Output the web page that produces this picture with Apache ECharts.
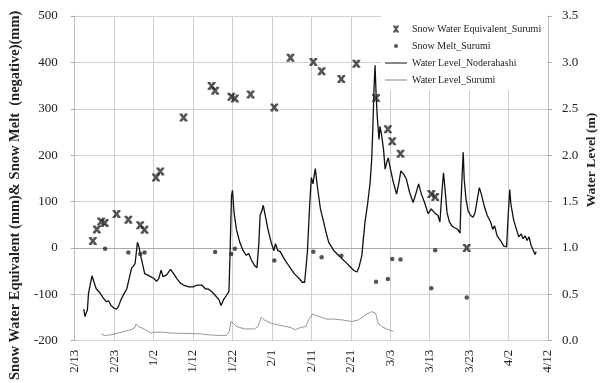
<!DOCTYPE html>
<html>
<head>
<meta charset="utf-8">
<script src="https://cdn.jsdelivr.net/npm/echarts@6/dist/echarts.min.js"></script>
<style>
html,body{margin:0;padding:0;background:#fff;}
#chart{width:604px;height:383px;}
</style>
</head>
<body>
<div id="chart"></div>
<script>
// ---- data (x = days since first tick) ----
const xTickLabels = ["2/13","2/23","1/2","1/12","1/22","2/1","2/11","2/21","3/3","3/13","3/23","4/2","4/12"];

const sweDays   = [4.6,5.6,6.7,7.6,10.6,13.6,16.6,17.7,20.6,21.7,27.6,34.7,35.6,39.7,40.6,44.6,50.6,54.7,60.5,62.6,67.6,71.4,76.4,79.4,80.5,82.6,90.4,91.4,99.4];
const sweValues = [15,40,57,54,73,61,49,39,152,165,281,349,339,326,322,331,303,410,401,381,364,397,323,256,230,203,116,110,0];

const meltDays   = [7.7,13.6,16.6,17.7,35.6,39.7,40.6,50.6,60.5,62.6,67.6,76.4,79.4,80.5,82.6,90.4,91.4,99.4];
const meltValues = [-2,-10,-13,-10,-9,-13,-2,-27,-8,-20,-17,-73,-67,-24,-25,-87,-5,-107];

const nodeDays = [2.3,2.6,2.9,3.2,3.5,3.9,4.4,4.85,5.45,6.3,7.1,7.95,8.6,9.2,10.0,10.6,11.1,11.7,12.55,13.2,13.8,14.4,14.9,15.3,15.9,16.3,16.7,17.3,17.75,18.4,19.25,20.1,20.75,21.3,21.9,22.4,23.3,24.3,25.1,25.9,26.8,27.6,28.9,30.1,31.0,31.5,32.2,33.1,33.9,34.7,35.6,36.6,37.1,37.7,38.5,39.1,39.4,39.75,40.0,40.4,41.0,41.85,42.7,43.5,44.1,44.8,45.6,46.2,46.7,47.0,47.45,47.8,48.3,49.0,49.8,50.5,50.9,51.5,52.1,53.15,54.4,55.7,56.9,57.7,58.3,59.0,59.6,60.0,60.4,61.0,61.5,62.3,63.0,63.6,64.4,65.7,67.4,68.6,69.9,70.7,71.55,72.1,72.8,73.2,73.6,74.2,74.9,75.3,75.6,75.9,76.15,76.4,76.7,77.15,77.4,77.8,78.3,78.7,79.1,79.5,79.9,80.8,81.6,82.2,82.7,83.5,84.1,84.9,85.8,86.6,87.2,87.9,88.7,89.6,90.4,91.2,92.1,92.6,93.1,93.5,93.9,94.4,95.0,95.6,96.2,97.1,97.7,97.9,98.3,98.5,98.75,99.2,99.75,100.4,101.0,101.5,102.1,102.6,103.1,103.8,104.6,105.45,106.0,106.45,107.1,107.95,108.8,109.5,109.9,110.3,110.6,111.3,112.0,112.6,113.2,113.7,114.2,114.7,115.2,115.7,116.3,116.75,117.0];
const nodeLevels = [0.34,0.26,0.24,0.33,0.51,0.60,0.70,0.635,0.56,0.52,0.47,0.42,0.43,0.38,0.35,0.34,0.37,0.44,0.51,0.56,0.67,0.78,0.77,0.83,1.06,1.01,0.92,0.81,0.72,0.71,0.69,0.67,0.64,0.67,0.76,0.69,0.71,0.77,0.72,0.67,0.62,0.60,0.58,0.58,0.60,0.62,0.60,0.56,0.556,0.53,0.49,0.44,0.38,0.44,0.49,0.53,0.96,1.56,1.62,1.38,1.20,1.06,0.97,0.92,0.94,0.87,0.81,0.785,1.06,1.35,1.40,1.46,1.35,1.20,1.06,0.97,1.045,0.97,0.96,0.88,0.80,0.72,0.67,0.63,0.63,0.96,1.49,1.76,1.69,1.855,1.67,1.42,1.30,1.19,1.06,0.97,0.90,0.85,0.795,0.76,0.74,0.795,0.92,1.10,1.28,1.455,1.705,1.955,2.31,2.74,2.97,2.67,2.42,2.17,2.31,2.22,2.06,1.85,1.92,1.97,1.88,1.705,1.58,1.705,1.83,1.79,1.74,1.60,1.49,1.60,1.69,1.58,1.49,1.37,1.42,1.38,1.35,1.28,1.60,1.81,1.63,1.38,1.28,1.24,1.22,1.20,1.16,1.455,1.85,2.03,1.74,1.53,1.40,1.35,1.33,1.38,1.53,1.65,1.58,1.455,1.35,1.28,1.20,1.24,1.13,1.08,1.02,1.01,1.35,1.63,1.47,1.30,1.20,1.12,1.15,1.10,1.13,1.08,1.12,1.03,0.97,0.93,0.96];

const surumiDays = [6.7,7.5,9.2,10.9,12.55,14.2,15.1,15.6,16.1,17.15,18.4,19.4,19.7,20.1,21.8,25.1,28.4,31.8,33.9,36.4,38.5,39.2,39.6,40.2,41.0,43.1,45.6,46.45,47.3,48.1,49.8,52.3,54.8,55.8,57.3,58.6,59.25,60.3,61.5,64.0,65.3,67.8,70.3,72.0,73.6,75.3,75.7,76.3,76.8,77.15,77.8,79.1,80.8];
const surumiLevels = [0.074,0.057,0.063,0.081,0.10,0.117,0.135,0.18,0.153,0.135,0.106,0.081,0.063,0.092,0.092,0.081,0.078,0.074,0.063,0.057,0.057,0.10,0.207,0.188,0.153,0.127,0.127,0.153,0.253,0.224,0.188,0.164,0.142,0.117,0.142,0.153,0.224,0.288,0.267,0.231,0.234,0.224,0.207,0.224,0.277,0.313,0.33,0.295,0.207,0.178,0.153,0.127,0.10];

const zip = (a, b) => a.map((v, i) => [v, b[i]]);

const FONT = '"Liberation Serif","Times New Roman",serif';
const GRID_COLOR = '#cfcfcf';
const X_SYMBOL = 'path://M0,0L3.4,0L5,2.6L6.6,0L10,0L10,1.6L7,5L10,8.4L10,10L6.6,10L5,7.4L3.4,10L0,10L0,8.4L3,5L0,1.6Z';
// legend icons drawn in a 22x10 box (tiny corner marks fix the box)
const BOX = 'M0,0L0.01,0L0,0.01ZM22,10L21.99,10L22,9.99Z';
const X_LEGEND = 'path://' + BOX + 'M8,1.5L10.3,1.5L11,2.8L11.7,1.5L14,1.5L14,2.6L12,5L14,7.4L14,8.5L11.7,8.5L11,7.2L10.3,8.5L8,8.5L8,7.4L10,5L8,2.6Z';
const DOT_LEGEND = 'path://' + BOX + 'M11,3A2,2 0 1 1 11,7A2,2 0 1 1 11,3Z';
const LINE_LEGEND = 'path://' + BOX + 'M0,4.4H22V5.6H0Z';
const THIN_LEGEND = 'path://' + BOX + 'M0,4.55H22V5.45H0Z';

const chart = echarts.init(document.getElementById('chart'), null, {renderer: 'canvas'});
chart.setOption({
  animation: false,
  backgroundColor: '#fff',
  textStyle: {fontFamily: FONT},
  grid: {left: 70, right: 56, top: 16, bottom: 40, containLabel: false},
  legend: {
    orient: 'vertical',
    left: 381, top: 15,
    padding: [9, 6, 5, 4],
    itemGap: 7, itemWidth: 22, itemHeight: 10,
    backgroundColor: '#fff',
    textStyle: {fontFamily: FONT, fontSize: 10, color: '#222'},
    data: [
      {name: 'Snow Water Equivalent_Surumi', icon: X_LEGEND},
      {name: 'Snow Melt_Surumi', icon: DOT_LEGEND},
      {name: 'Water Level_Noderahashi', icon: LINE_LEGEND},
      {name: 'Water Level_Surumi', icon: THIN_LEGEND}
    ]
  },
  graphic: [{
    type: 'text', x: 592, y: 160, rotation: Math.PI / 2,
    style: {
      text: 'Water Level (m)', textAlign: 'center', textVerticalAlign: 'middle',
      font: 'bold 13.5px "Liberation Serif","Times New Roman",serif', fill: '#222'
    }
  }],
  xAxis: {
    type: 'value', min: 0, max: 120, interval: 10,
    axisLine: {show: true, lineStyle: {color: '#aaa'}},
    axisTick: {show: false},
    splitLine: {show: true, lineStyle: {color: GRID_COLOR, width: 1}},
    axisLabel: {
      rotate: 90, margin: 9, fontFamily: FONT, fontSize: 13, color: '#222',
      formatter: v => xTickLabels[Math.round(v / 10)] || ''
    }
  },
  yAxis: [
    {
      type: 'value', min: -200, max: 500, interval: 100,
      name: 'Snow Water Equivalent (mm)& Snow Melt  (negative)(mm)',
      nameLocation: 'middle', nameRotate: 90, nameGap: 45,
      nameTextStyle: {fontFamily: FONT, fontSize: 14.5, fontWeight: 'bold', color: '#222', padding: [0, 34, 0, 0]},
      axisLine: {show: true, lineStyle: {color: '#bbb'}},
      axisTick: {show: true, inside: false, length: 4, lineStyle: {color: '#aaa'}},
      splitLine: {show: true, lineStyle: {color: GRID_COLOR, width: 1}},
      axisLabel: {margin: 17, fontFamily: FONT, fontSize: 13, color: '#222'}
    },
    {
      type: 'value', min: 0, max: 3.5, interval: 0.5,
      axisLine: {show: true, lineStyle: {color: '#bbb'}},
      axisTick: {show: true, inside: false, length: 4, lineStyle: {color: '#aaa'}},
      splitLine: {show: false},
      axisLabel: {margin: 14, fontFamily: FONT, fontSize: 13, color: '#222', formatter: v => v.toFixed(1)}
    }
  ],
  series: [
    {
      name: 'Water Level_Surumi', type: 'line', yAxisIndex: 1,
      data: zip(surumiDays, surumiLevels),
      symbol: 'none', lineStyle: {color: '#8a8a8a', width: 0.9}, itemStyle: {color: '#8a8a8a'},
      z: 2
    },
    {
      name: 'Water Level_Noderahashi', type: 'line', yAxisIndex: 1,
      data: zip(nodeDays, nodeLevels),
      symbol: 'none', lineStyle: {color: '#111', width: 1.3}, itemStyle: {color: '#111'},
      z: 3
    },
    {
      name: 'Snow Water Equivalent_Surumi', type: 'scatter', yAxisIndex: 0,
      data: zip(sweDays, sweValues),
      symbol: X_SYMBOL, symbolSize: 8, itemStyle: {color: '#2a2a2a'},
      z: 4
    },
    {
      name: 'Snow Melt_Surumi', type: 'scatter', yAxisIndex: 0,
      data: zip(meltDays, meltValues),
      symbol: 'circle', symbolSize: 4.5, itemStyle: {color: '#2a2a2a'},
      z: 4
    }
  ]
});
</script>
</body>
</html>
